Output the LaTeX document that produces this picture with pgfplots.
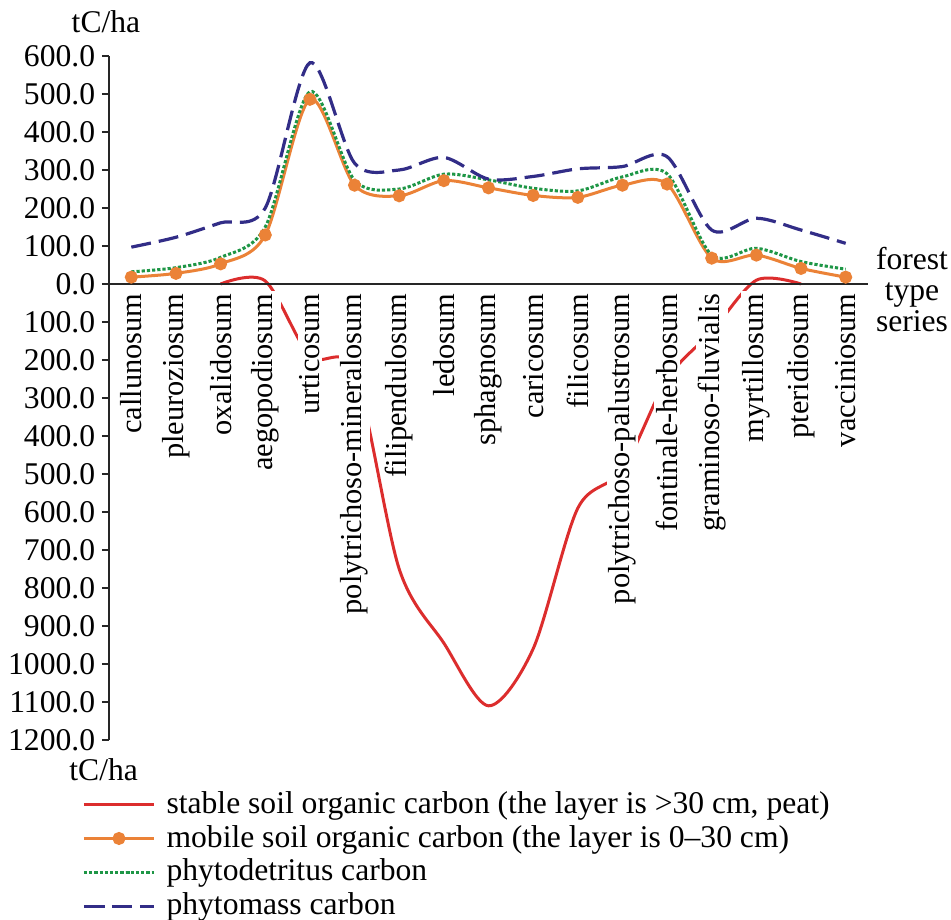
\documentclass[border=0pt]{standalone}
\usepackage{fontspec}
\setmainfont{LiberationSerif}[Extension=.ttf, UprightFont=*-Regular, BoldFont=*-Bold, ItalicFont=*-Italic, BoldItalicFont=*-BoldItalic]
\usepackage{pgfplots}
\pgfplotsset{compat=1.18}
\definecolor{cred}{RGB}{220,45,45}
\definecolor{corange}{RGB}{235,130,55}
\definecolor{cgreen}{RGB}{30,150,70}
\definecolor{cnavy}{RGB}{50,45,135}
\begin{document}
\fontsize{15.8}{18}\selectfont
\begin{tikzpicture}
\begin{axis}[
 at={(54.5pt,89.5pt)}, anchor=south west,
 scale only axis, width=379.5pt, height=342pt,
 xmin=-0.5, xmax=16.5, ymin=-1200, ymax=600,
 axis y line=left, axis x line=middle,
 axis line style={-, line width=0.7pt, black!85},
 xtick={0,...,16},
 xticklabels={callunosum,pleuroziosum,oxalidosum,aegopodiosum,urticosum,polytrichoso-mineralosum,filipendulosum,ledosum,sphagnosum,caricosum,filicosum,polytrichoso-palustrosum,fontinale-herbosum,graminoso-fluvialis,myrtillosum,pteridiosum,vacciniosum},
 xtick style={draw=none},
 xticklabel style={rotate=90, anchor=east, fill=white, inner sep=1pt, font=\fontsize{15.2}{18}\selectfont},
 ytick={-1200,-1100,...,600},
 yticklabels={1200.0,1100.0,1000.0,900.0,800.0,700.0,600.0,500.0,400.0,300.0,200.0,100.0,0.0,100.0,200.0,300.0,400.0,500.0,600.0},
 yticklabel style={xshift=2pt},
 tick align=outside, major tick length=3.5pt,
 ytick style={black!85, line width=0.7pt},
 hide obscured x ticks=false, hide obscured y ticks=false,
 axis on top,
 clip=false,
 legend style={draw=none, fill=none, at={(axis description cs:-0.0356,-0.070)}, anchor=north west, legend cell align=left, row sep=0.6pt, column sep=4pt, inner sep=0pt, nodes={inner sep=1.5pt}},
 legend image code/.code={\draw[mark repeat=2,mark phase=2,#1] plot coordinates {(0pt,0pt) (17.5pt,0pt) (35pt,0pt)};},
]
\addplot[cred, line width=1.5pt, smooth] coordinates {(2,0) (3,8) (4,-190) (5,-230) (6,-750) (7,-945) (8,-1110) (9,-960) (10,-590) (11,-490) (12,-250) (13,-125) (14,10) (15,0)};
\addlegendentry{stable soil organic carbon (the layer is >30 cm, peat)}
\addplot[corange, line width=1.5pt, smooth, mark=*, mark size=2.5pt, mark options={solid, fill=corange, draw=corange}] coordinates {(0,18) (1,28) (2,53) (3,129) (4,486) (5,260) (6,232) (7,272) (8,253) (9,233) (10,228) (11,260) (12,263) (13,68) (14,76) (15,41) (16,18)};
\addlegendentry{mobile soil organic carbon (the layer is 0–30 cm)}
\addplot[cgreen, line width=1.5pt, smooth, dash pattern=on 1.6pt off 1pt] coordinates {(0,32) (1,43) (2,70) (3,150) (4,506) (5,273) (6,250) (7,289) (8,274) (9,252) (10,245) (11,282) (12,290) (13,76) (14,94) (15,59) (16,39)};
\addlegendentry{phytodetritus carbon}
\addplot[cnavy, line width=1.6pt, smooth, dash pattern=on 10pt off 4pt] coordinates {(0,97) (1,123) (2,161) (3,200) (4,582) (5,318) (6,300) (7,333) (8,276) (9,283) (10,303) (11,309) (12,335) (13,142) (14,173) (15,142) (16,107)};
\addlegendentry{phytomass carbon}
\node at (axis description cs:-0.004,1.0497) {tC/ha};
\node at (axis description cs:-0.007,-0.0439) {tC/ha};
\node[align=center, font=\fontsize{15.8}{15.5}\selectfont] at (axis description cs:1.058,0.658) {forest\\type\\series};
\end{axis}
\pgfresetboundingbox
\path[use as bounding box] (0,0) rectangle (475.5pt,459.5pt);
\end{tikzpicture}
\end{document}
